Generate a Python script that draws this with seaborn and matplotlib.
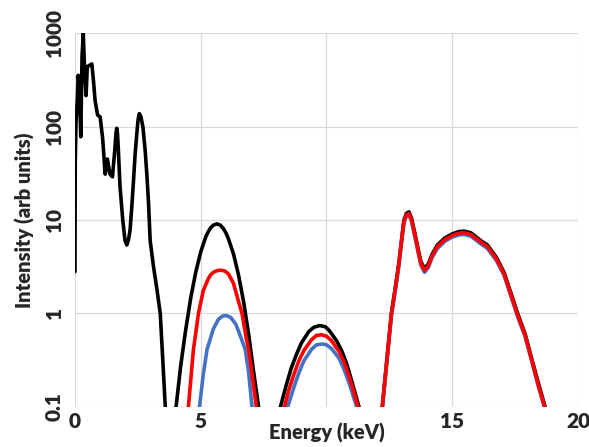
import numpy as np
import pandas as pd
import matplotlib
matplotlib.use('Agg')
import matplotlib.pyplot as plt
import seaborn as sns

# low energy part (black only)
e_low = [0.0, 0.01, 0.04, 0.09, 0.13, 0.18, 0.23, 0.28, 0.33, 0.38, 0.44, 0.49, 0.58, 0.67,
         0.74, 0.80, 0.90, 1.00, 1.10, 1.20, 1.29, 1.39, 1.49, 1.58, 1.63, 1.66, 1.69, 1.72,
         1.79, 1.90, 1.99, 2.06, 2.13, 2.19, 2.26, 2.32, 2.39, 2.46, 2.51, 2.56, 2.62, 2.70,
         2.79, 2.86, 2.92, 2.99, 3.12, 3.26, 3.39, 3.49, 3.59, 3.63]
black_low = [2.8, 40, 110, 190, 355, 250, 78, 560, 1000, 420, 215, 440, 455, 470,
             300, 190, 133, 127, 75, 31, 45, 31, 29, 55, 85, 96, 85, 60,
             23, 10, 6.0, 5.4, 6.2, 7.8, 14, 24.5, 50, 85, 120, 138, 128, 100,
             56, 30, 16, 6.0, 3.2, 1.8, 1.0, 0.32, 0.1, 0.06]

# peak near 5.7 keV
e_p1_black = [3.98, 4.02, 4.2, 4.4, 4.6, 4.8, 5.0, 5.2, 5.3, 5.4, 5.5, 5.64, 5.78, 5.9, 6.0,
              6.1, 6.3, 6.5, 6.7, 6.9, 7.1, 7.3, 7.34]
p1_black = [0.07, 0.1, 0.27, 0.66, 1.45, 2.75, 4.55, 6.6, 7.5, 8.3, 8.8, 9.1, 8.8, 8.1, 7.3,
            6.3, 4.35, 2.6, 1.35, 0.61, 0.24, 0.1, 0.08]
e_p1_red = [4.48, 4.51, 4.71, 4.91, 5.1, 5.3, 5.4, 5.5, 5.65, 5.8, 5.95, 6.1, 6.3, 6.5, 6.64,
            6.8, 6.9, 7.0, 7.21, 7.25]
p1_red = [0.07, 0.1, 0.41, 1.0, 1.75, 2.35, 2.6, 2.75, 2.87, 2.9, 2.85, 2.65, 2.1, 1.35, 1.0,
          0.56, 0.41, 0.27, 0.1, 0.08]
e_p1_blue = [4.92, 4.95, 5.1, 5.25, 5.5, 5.7, 5.85, 5.98, 6.1, 6.2, 6.4, 6.6, 6.77, 6.9, 7.04, 7.08]
p1_blue = [0.07, 0.1, 0.22, 0.41, 0.68, 0.86, 0.93, 0.95, 0.93, 0.90, 0.76, 0.55, 0.41, 0.24, 0.1, 0.08]

# peak near 9.8 keV
e_p2_black = [8.12, 8.17, 8.4, 8.6, 8.8, 9.0, 9.3, 9.5, 9.73, 9.95, 10.1, 10.4, 10.6, 10.8,
              11.0, 11.29, 11.34]
p2_black = [0.08, 0.1, 0.17, 0.26, 0.36, 0.48, 0.64, 0.71, 0.74, 0.72, 0.66, 0.51, 0.40, 0.29,
            0.19, 0.1, 0.09]
e_p2_red = [8.28, 8.33, 8.5, 8.7, 8.9, 9.1, 9.4, 9.6, 9.79, 10.0, 10.2, 10.5, 10.7, 10.9,
            11.1, 11.25, 11.3]
p2_red = [0.08, 0.1, 0.15, 0.22, 0.31, 0.40, 0.52, 0.58, 0.59, 0.57, 0.51, 0.39, 0.30, 0.21,
          0.14, 0.1, 0.09]
e_p2_blue = [8.41, 8.46, 8.7, 8.9, 9.1, 9.4, 9.6, 9.83, 10.0, 10.2, 10.5, 10.7, 10.9, 11.2, 11.25]
p2_blue = [0.08, 0.1, 0.16, 0.23, 0.31, 0.41, 0.46, 0.47, 0.46, 0.42, 0.33, 0.25, 0.18, 0.1, 0.09]

# high energy part (13 - 19 keV)
e_p3 = [12.18, 12.22, 12.4, 12.58, 12.75, 12.88, 12.98, 13.08, 13.18, 13.28, 13.38, 13.5,
        13.61, 13.75, 13.9, 14.05, 14.2, 14.41, 14.7, 15.0, 15.25, 15.47, 15.74, 16.14,
        16.4, 16.75, 17.06, 17.35, 17.6, 17.9, 18.13, 18.4, 18.69, 18.74]
p3_black = [0.07, 0.1, 0.32, 1.0, 2.0, 3.5, 6.0, 10, 11.8, 12.2, 10.5, 7.5,
            5.4, 3.6, 3.0, 3.4, 4.3, 5.4, 6.4, 7.1, 7.5, 7.6, 7.3, 6.0,
            5.4, 4.0, 2.75, 1.6, 1.0, 0.6, 0.35, 0.19, 0.1, 0.08]
p3_red = [0.07, 0.1, 0.31, 0.97, 1.93, 3.4, 5.8, 9.7, 11.4, 11.7, 10.1, 7.2,
          5.2, 3.45, 2.88, 3.25, 4.15, 5.2, 6.15, 6.85, 7.2, 7.3, 7.0, 5.8,
          5.2, 3.85, 2.65, 1.54, 0.96, 0.58, 0.34, 0.18, 0.096, 0.077]
p3_blue = [0.07, 0.095, 0.3, 0.93, 1.85, 3.25, 5.55, 9.3, 11.0, 11.3, 9.7, 6.9,
           4.95, 3.3, 2.75, 3.1, 3.95, 4.95, 5.9, 6.55, 6.9, 7.0, 6.7, 5.55,
           4.95, 3.7, 2.55, 1.48, 0.92, 0.56, 0.33, 0.175, 0.093, 0.075]

x_ticks = [0, 5, 10, 15, 20]
x_tick_labels = ['0', '5', '', '15', '20']
y_ticks = [0.1, 1, 10, 100, 1000]
y_tick_labels = ['0.1', '1', '10', '100', '1000']

BLACK, RED, BLUE = '#000000', '#FF0000', '#4472C4'

segments = [
    (e_low, black_low, BLACK),
    (e_p1_black, p1_black, BLACK),
    (e_p2_black, p2_black, BLACK),
    (e_p3, p3_black, BLACK),
    (e_p1_blue, p1_blue, BLUE),
    (e_p2_blue, p2_blue, BLUE),
    (e_p3, p3_blue, BLUE),
    (e_p1_red, p1_red, RED),
    (e_p2_red, p2_red, RED),
    (e_p3, p3_red, RED),
]

sns.set_style("white")
plt.rcParams['font.family'] = ['Lato', 'DejaVu Sans']

fig = plt.figure(figsize=(5.89, 4.47), dpi=100)
ax = fig.add_axes([0.1273, 0.0901, 0.854, 0.8354])

for xs, ys, col in segments:
    df = pd.DataFrame({'E': xs, 'I': ys})
    sns.lineplot(data=df, x='E', y='I', color=col, lw=2.6, sort=False,
                 estimator=None, ax=ax)

ax.set_yscale('log')
ax.set_xlim(0, 20)
ax.set_ylim(0.1, 1000)
ax.set_xticks(x_ticks)
ax.set_xticklabels(x_tick_labels, fontsize=15, fontweight='heavy')
ax.set_yticks(y_ticks)
ax.set_yticklabels(y_tick_labels, fontsize=15, fontweight='heavy', rotation=90, va='center')
ax.minorticks_off()
ax.tick_params(axis='both', length=0)
ax.tick_params(axis='x', pad=4)
ax.tick_params(axis='y', pad=8)

ax.grid(True, color='#D9D9D9', lw=0.9)
ax.set_axisbelow(True)
for s in ax.spines.values():
    s.set_visible(False)

ax.set_xlabel('Energy (keV)', fontsize=14.5, fontweight='heavy')
ax.set_ylabel('Intensity (arb units)', fontsize=14.5, fontweight='heavy')
ax.xaxis.set_label_coords(0.5, -0.07)
ax.xaxis.label.set_va('center')
ax.yaxis.set_label_coords(-0.099, 0.5)
ax.yaxis.label.set_va('center')

fig.savefig('out.png', dpi=100)
